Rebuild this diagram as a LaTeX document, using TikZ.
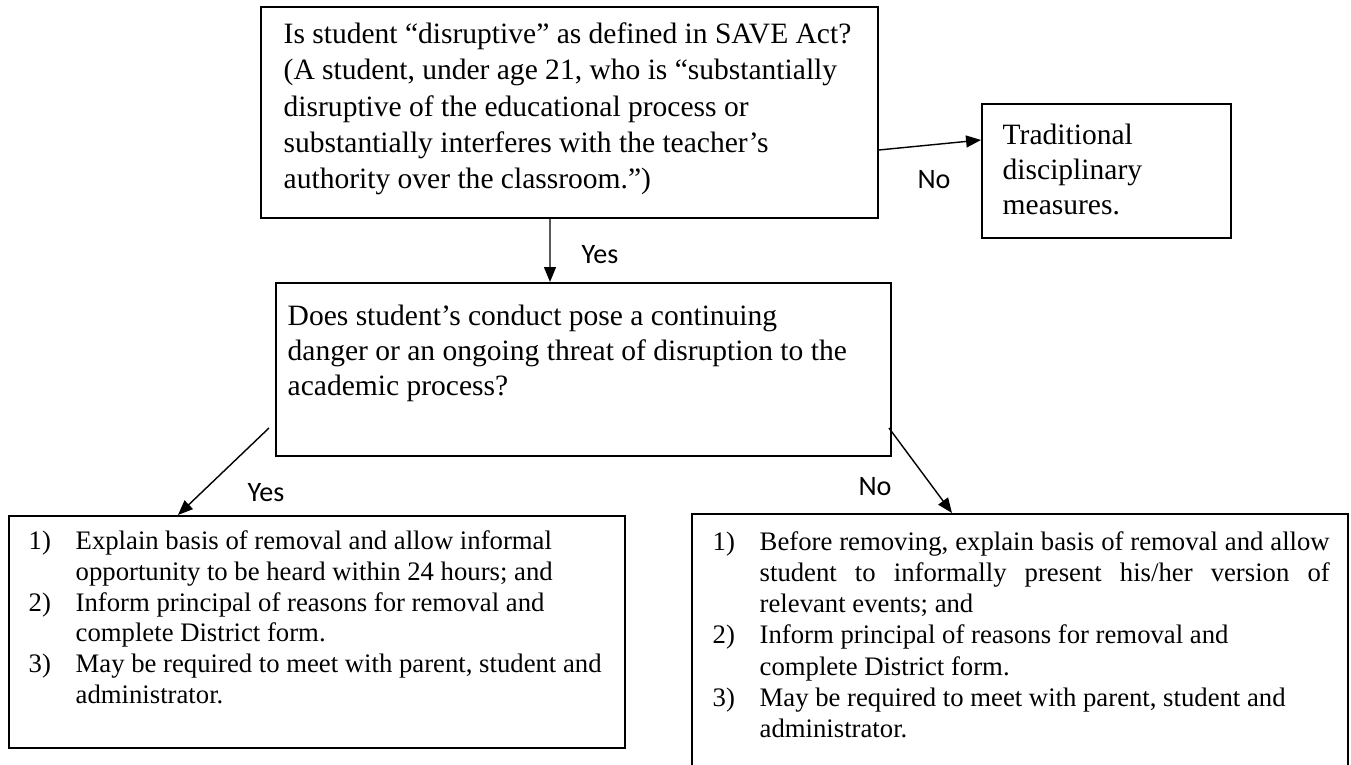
\documentclass[tikz,border=0pt]{standalone}
\usepackage{fontspec}
\setmainfont{Liberation Serif}
\newfontfamily\labelfont{Carlito}
\usetikzlibrary{arrows.meta}
\tikzset{>={Triangle[length=8.5pt,width=6.8pt]}}
\tikzset{box/.style={draw,line width=1.1pt,inner sep=0pt,anchor=north west},
    txt/.style={inner sep=0pt,anchor=north west,align=left},
    lbl/.style={font=\labelfont\fontsize{16}{19}\selectfont},
    big/.style={font=\fontsize{16.8}{20}\selectfont},
    small/.style={font=\fontsize{15.2}{17.5}\selectfont}}

\begin{document}
\begin{tikzpicture}[thick]
    \useasboundingbox (0,0) rectangle (27.02,15.3);
    %\draw[gray!30] (0,0) grid (27,15);
    \node[box,minimum width=12.34cm,minimum height=4.22cm] (act) at (5.2,15.18) {};
    \node[box,minimum width=4.98cm,minimum height=2.68cm] (trad) at (19.62,13.24) {};
    \node[box,minimum width=12.3cm,minimum height=3.46cm] (threat) at (5.5,9.66) {};
    \node[box,minimum width=12.32cm,minimum height=4.64cm] (yesact) at (0.16,5.0) {};
    \node[box,minimum width=13.12cm,minimum height=5.24cm] (noact) at (13.82,5.04) {};

    \node[txt,big,font=\fontsize{16.8}{20.7}\selectfont] (acttxt) at ([shift={(0.46,-0.32)}]act.north west)
        {Is student “disruptive” as defined in SAVE Act?\\
        (A student, under age 21, who is “substantially\\
        disruptive of the educational process or\\
        substantially interferes with the teacher’s\\
        authority over the classroom.”)};
    \node[txt,big] (tradtxt) at ([shift={(0.42,-0.4)}]trad.north west)
        {Traditional\\ disciplinary\\ measures.};
    \node[txt,big] (threattxt) at ([shift={(0.24,-0.44)}]threat.north west)
        {Does student’s conduct pose a continuing\\
        danger or an ongoing threat of disruption to the\\
        academic process?};
    \node[txt,small] (yestxt) at ([shift={(0.4,-0.25)}]yesact.north west)
        {\begin{tabular}{@{}p{0.94cm}@{}p{10.8cm}@{}}
        1) & Explain basis of removal and allow informal\newline opportunity to be heard within 24 hours; and\\
        2) & Inform principal of reasons for removal and\newline complete District form.\\
        3) & May be required to meet with parent, student and\newline administrator.
        \end{tabular}};
    \node[txt,small,font=\fontsize{15.2}{17.8}\selectfont] (notxt) at ([shift={(0.42,-0.29)}]noact.north west)
        {\begin{tabular}{@{}p{0.94cm}@{}p{11.4cm}@{}}
        1) & Before removing, explain basis of removal and allow\linebreak student to informally present his/her version of\linebreak relevant events; and\\
        2) & Inform principal of reasons for removal and\newline complete District form.\\
        3) & May be required to meet with parent, student and\newline administrator.
        \end{tabular}};

    \draw[->] ([yshift=-2.88cm]act.north east) -- ([yshift=-0.74cm]trad.north west);
    \draw[->] ([xshift=5.8cm]act.south west) -- ([xshift=5.5cm]threat.north west);
    \draw[->] ([shift={(-0.12,-2.92)}]threat.north west) -- ([xshift=3.4cm]yesact.north west);
    \draw[->] ([shift={(-0.06,-2.92)}]threat.north east) -- ([xshift=5.22cm]noact.north west);

    \node[lbl] (no1) at (18.68,11.7) {No};
    \node[lbl] (yes1) at (12.0,10.2) {Yes};
    \node[lbl] (yes2) at (5.32,5.44) {Yes};
    \node[lbl] (no2) at (17.5,5.56) {No};
\end{tikzpicture}
\end{document}
